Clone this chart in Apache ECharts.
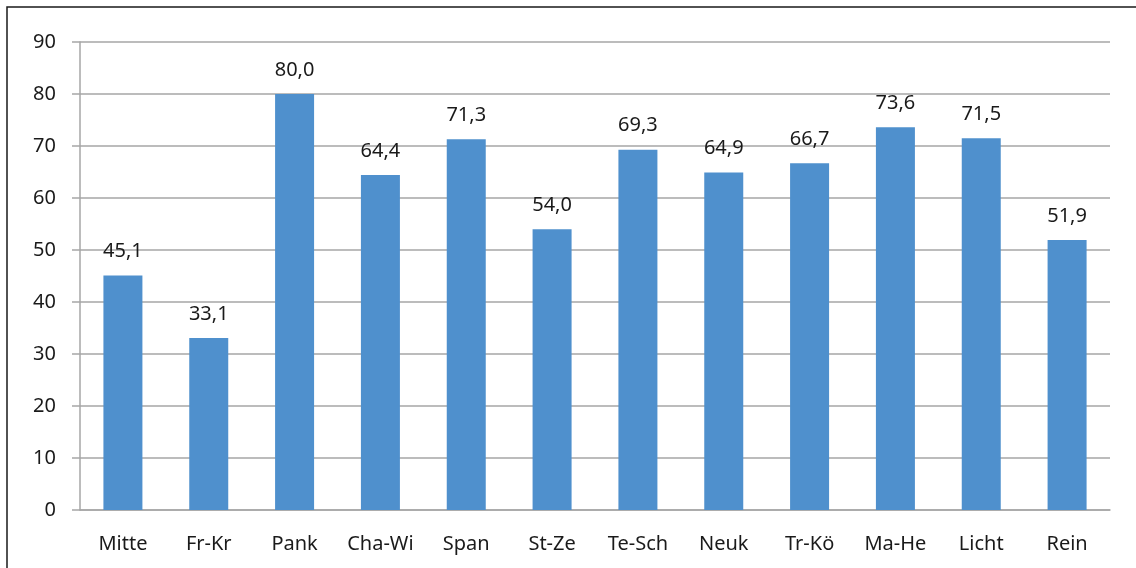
<!DOCTYPE html>
<html>
<head>
<meta charset="utf-8">
<script src="https://cdn.jsdelivr.net/npm/echarts@6/dist/echarts.min.js"></script>
<style>
  html, body { margin: 0; padding: 0; background: #fff; }
  #chart { width: 1136px; height: 568px; }
</style>
</head>
<body>
<div id="chart"></div>
<script>
// Bezirke und Werte
var categories = ['Mitte', 'Fr-Kr', 'Pank', 'Cha-Wi', 'Span', 'St-Ze', 'Te-Sch', 'Neuk', 'Tr-Kö', 'Ma-He', 'Licht', 'Rein'];
var values = [45.1, 33.1, 80.0, 64.4, 71.3, 54.0, 69.3, 64.9, 66.7, 73.6, 71.5, 51.9];

var font = '"Noto Sans", Lato, sans-serif';

var chart = echarts.init(document.getElementById('chart'));

var option = {
  animation: false,
  backgroundColor: '#fff',
  graphic: [{
    type: 'rect',
    shape: { x: 7, y: 7, width: 1140, height: 580 },
    style: { fill: 'none', stroke: '#1a1a1a', lineWidth: 1.5 },
    silent: true
  }],
  grid: {
    left: 80,
    right: 26,
    top: 42,
    bottom: 58
  },
  xAxis: {
    type: 'category',
    data: categories,
    axisLine: { lineStyle: { color: '#a6a6a6', width: 1.5 } },
    axisTick: { show: false },
    axisLabel: {
      interval: 0,
      color: '#1a1a1a',
      fontSize: 20,
      fontFamily: font,
      margin: 24
    }
  },
  yAxis: {
    type: 'value',
    min: 0,
    max: 90,
    interval: 10,
    axisLine: { show: true, lineStyle: { color: '#a6a6a6', width: 1.5 } },
    axisTick: { show: true, length: 8, lineStyle: { color: '#a6a6a6', width: 1.5 } },
    splitLine: { lineStyle: { color: '#a6a6a6', width: 1.5 } },
    axisLabel: {
      color: '#1a1a1a',
      fontSize: 20,
      fontFamily: font,
      margin: 24
    }
  },
  series: [{
    type: 'bar',
    data: values,
    barWidth: 39,
    itemStyle: { color: '#4f90cd' },
    label: {
      show: true,
      position: 'top',
      distance: 14,
      color: '#1a1a1a',
      fontSize: 20,
      fontFamily: font,
      formatter: function (p) {
        return p.value.toFixed(1).replace('.', ',');
      }
    }
  }]
};

chart.setOption(option);
</script>
</body>
</html>
